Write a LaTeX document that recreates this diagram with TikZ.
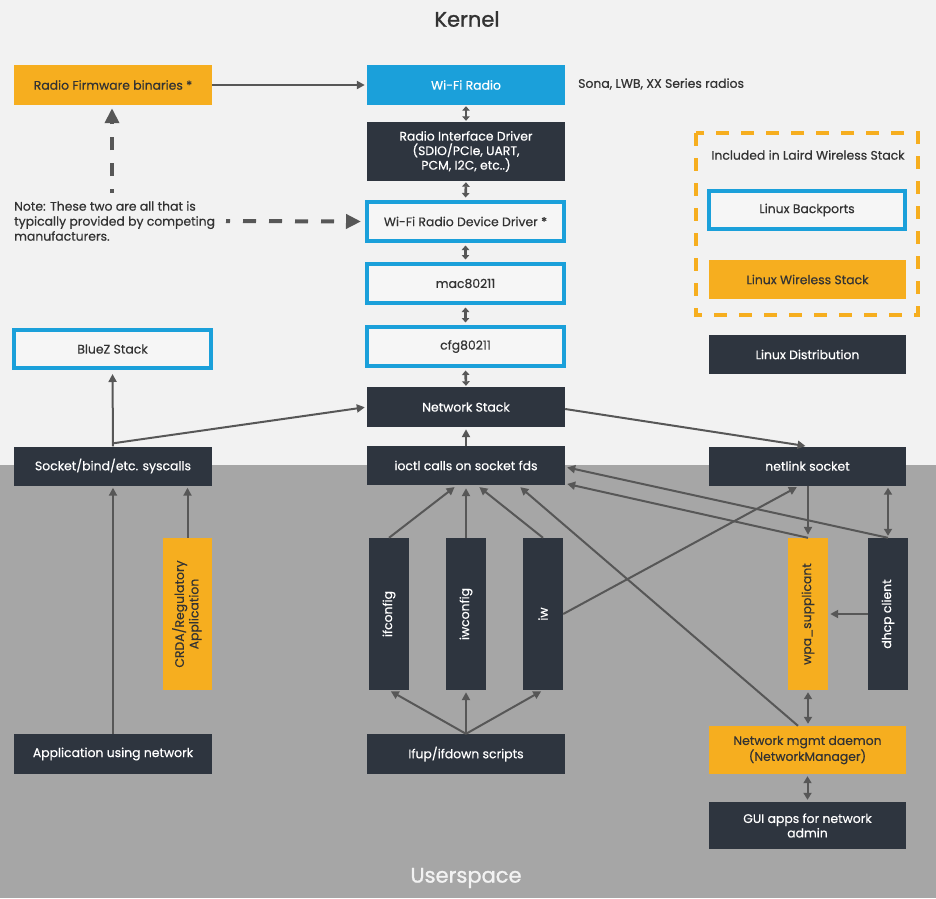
\documentclass[tikz,border=0pt]{standalone}
\usepackage{fontspec}
\setmainfont{Poppins}[FakeBold=0.5]
\newfontfamily\titlefam{Poppins}[FakeBold=1.2]
\usetikzlibrary{arrows.meta,calc}
\definecolor{bgtop}{HTML}{F2F2F2}
\definecolor{bgbot}{HTML}{A6A6A6}
\definecolor{darkb}{HTML}{2E353F}
\definecolor{orng}{HTML}{F6AE1F}
\definecolor{blu}{HTML}{1BA0DA}
\definecolor{lnc}{HTML}{575757}
\definecolor{txtd}{HTML}{333333}
\definecolor{boxw}{HTML}{F6F6F6}
\newcommand\boxfnt{\fontsize{12.4}{14.5}\selectfont}
\newcommand\titlefnt{\titlefam\fontsize{21}{24}\selectfont}
\begin{document}
\begin{tikzpicture}[x=1pt,y=-1pt,
  base/.style={inner sep=0pt, align=center, font=\boxfnt},
  darkbox/.style={base, fill=darkb, text=white, minimum width=198pt, minimum height=40pt},
  orbox/.style={base, fill=orng, text=txtd, minimum width=198pt, minimum height=40pt},
  bluebox/.style={base, fill=blu, text=white, minimum width=198pt, minimum height=40pt},
  outbox/.style={base, draw=blu, line width=4pt, fill=boxw, text=txtd, minimum width=197pt, minimum height=39pt},
  vdark/.style={base, fill=darkb, text=white, minimum width=40pt, minimum height=152pt},
  vor/.style={base, fill=orng, text=txtd, minimum width=40pt, minimum height=152pt},
  conn/.style={draw=lnc, line width=2pt, -{Triangle[length=8pt,width=8pt]}, shorten >=2pt},
  dconn/.style={draw=lnc, line width=2pt, {Triangle[length=7pt,width=8pt]}-{Triangle[length=7pt,width=8pt]}, shorten >=2pt, shorten <=2pt},
  cconn/.style={draw=lnc, line width=2.6pt, {Triangle[length=4.5pt,width=7.5pt]}-{Triangle[length=4.5pt,width=7.5pt]}, shorten >=1pt, shorten <=1pt},
  dashconn/.style={draw=lnc, line width=4pt, dash pattern=on 13pt off 13pt, dash phase=9pt, -{Triangle[length=15pt,width=14pt]}},
  plaintxt/.style={inner sep=0pt, font=\boxfnt, text=txtd}
]
% backgrounds
\fill[bgtop] (0,0) rectangle (936,465);
\fill[bgbot] (0,465) rectangle (936,898);
\useasboundingbox (0,0) rectangle (936,898);

% titles
\node[inner sep=0pt, font=\titlefnt, text=txtd] (kernel) at (467,19) {Kernel};
\node[inner sep=0pt, font=\titlefnt, text=bgtop] (user) at (466,878) {Userspace};

% central column
\node[bluebox] (wifi) at (466,85) {Wi-Fi Radio};
\node[darkbox, minimum height=59pt] (rid) at (466,151.5) {Radio Interface Driver\\(SDIO/PCIe, UART,\\PCM, I2C, etc..)};
\node[outbox] (wrdd) at (465.5,221.5) {Wi-Fi Radio Device Driver *};
\node[outbox] (mac) at (465.5,283.5) {mac80211};
\node[outbox] (cfg) at (465.5,346.5) {cfg80211};
\node[darkbox] (netstack) at (466,407) {Network Stack};
\node[darkbox, minimum height=39pt] (ioctl) at (466,465.5) {ioctl calls on socket fds};

% left column
\node[orbox] (firm) at (113,85) {Radio Firmware binaries *};
\node[outbox, minimum width=197pt, minimum height=38pt] (bluez) at (112.5,349) {BlueZ Stack};
\node[darkbox, minimum height=39pt] (socket) at (113,466) {Socket/bind/etc. syscalls};
\node[darkbox] (app) at (113,754) {Application using network};
\node[vor, minimum width=49pt] (crda) at (187.5,614) {\rotatebox{90}{\begin{tabular}{@{}c@{}}CRDA/Regulatory\\Application\end{tabular}}};

% tools
\node[vdark] (ifconfig) at (389,614) {\rotatebox{90}{ifconfig}};
\node[vdark] (iwconfig) at (466,614) {\rotatebox{90}{iwconfig}};
\node[vdark] (iw) at (543,614) {\rotatebox{90}{iw}};
\node[darkbox] (ifup) at (466,754) {Ifup/ifdown scripts};

% right column
\node[darkbox, minimum width=197pt, minimum height=39pt] (netlink) at (807.5,466) {netlink socket};
\node[vor] (wpa) at (808,614) {\rotatebox{90}{wpa\_supplicant}};
\node[vdark] (dhcp) at (888,614) {\rotatebox{90}{dhcp client}};
\node[orbox, minimum width=197pt, minimum height=48pt] (nm) at (807.5,750) {Network mgmt daemon\\(NetworkManager)};
\node[darkbox, minimum width=197pt, minimum height=47pt] (gui) at (807.5,825.5) {GUI apps for network\\admin};

% legend
\draw[draw=orng, line width=4pt, dash pattern=on 13pt off 12pt] (696,133) rectangle (918,315);
\node[plaintxt] (incl) at (808,155) {Included in Laird Wireless Stack};
\node[outbox, minimum width=196pt, minimum height=38pt] (backp) at (807,210) {Linux Backports};
\node[orbox, minimum width=197pt, minimum height=39pt] (lws) at (807.5,279.5) {Linux Wireless Stack};
\node[darkbox, minimum width=197pt, minimum height=39pt] (ldist) at (807.5,354.5) {Linux Distribution};

% texts
\node[plaintxt, anchor=west] (sona) at (578,84) {Sona, LWB, XX Series radios};
\node[plaintxt, anchor=west, align=left, font=\fontsize{12.4}{15}\selectfont] (note) at (14,221) {Note: These two are all that is\\typically provided by competing\\manufacturers.};

% dashed arrows
\coordinate (nu) at (112,193);
\coordinate (nr) at (226,221);
\draw[dashconn, shorten >=3pt] (nu) -- (nu |- firm.south);
\draw[dashconn, shorten >=4pt] (nr) -- (wrdd.west);

% firmware to radio
\draw[conn] (firm.east) -- (wifi.west);

% central chain
\draw[cconn] (wifi.south) -- (rid.north);
\draw[cconn, shorten >=2.5pt] (rid.south) -- (wrdd.north);
\draw[cconn, shorten >=2.5pt, shorten <=2.5pt] (wrdd.south) -- (mac.north);
\draw[cconn, shorten >=2.5pt, shorten <=2.5pt] (mac.south) -- (cfg.north);
\draw[cconn, shorten <=2.5pt] (cfg.south) -- (netstack.north);
\draw[conn] (ioctl.north) -- (netstack.south);

% socket syscalls
\coordinate (sj) at ([yshift=3pt]socket.north);
\draw[conn, shorten >=4pt] (socket.north) -- (bluez.south);
\draw[conn] (sj) -- (netstack.west);
\draw[conn] ([yshift=-2pt]netstack.east) -- (netlink.north);
\draw[conn] (app.north) -- (socket.south);
\draw[conn] (crda.north) -- (crda.north |- socket.south);

% tools to ioctl
\draw[conn, shorten >=3pt] (ifconfig.north) -- ([xshift=-9pt]ioctl.south);
\draw[conn, shorten >=3pt] (iwconfig.north) -- (ioctl.south);
\draw[conn, shorten >=3pt] (iw.north) -- ([xshift=11pt]ioctl.south);
\draw[conn, shorten >=3pt] ([xshift=-9.5pt]nm.north) -- ([xshift=52pt]ioctl.south);
\draw[conn, shorten >=3pt] (iw.east) -- ([xshift=-8pt]netlink.south);

% wpa / dhcp to ioctl
\draw[conn] (dhcp.north) -- ([yshift=-1.5pt]ioctl.east);
\draw[conn] (wpa.north) -- ([yshift=-18pt]ioctl.east);

% netlink links
\draw[conn, shorten >=3pt] (netlink.south -| wpa.north) -- (wpa.north);
\draw[dconn] (netlink.south -| dhcp.north) -- (dhcp.north);
\draw[conn] (dhcp.west) -- (wpa.east);
\draw[dconn] (wpa.south) -- (wpa.south |- nm.north);
\draw[dconn] (nm.south) -- (gui.north);

% ifup to tools
\draw[conn] (ifup.north) -- (ifconfig.south);
\draw[conn] (ifup.north) -- (iwconfig.south);
\draw[conn] (ifup.north) -- (iw.south);
\end{tikzpicture}
\end{document}
